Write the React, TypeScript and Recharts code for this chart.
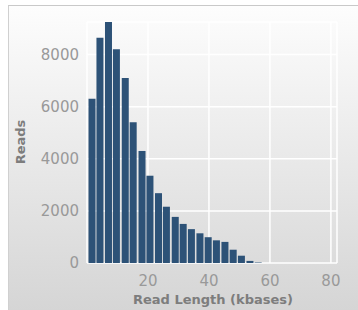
import { BarChart, Bar, XAxis, YAxis, CartesianGrid } from 'recharts';

// bin centres (kbases) and read counts
const binCenters = [1.8, 4.4, 7.2, 9.8, 12.7, 15.3, 18.2, 20.8, 23.6, 26.2, 29.1, 31.7, 34.4, 37.2, 39.9, 42.6, 45.4, 48.1, 50.8, 53.6, 56.3];
const readCounts = [6300, 8650, 9250, 8200, 7100, 5400, 4300, 3350, 2680, 2160, 1770, 1500, 1300, 1140, 990, 870, 810, 510, 280, 80, 20];
const xTicks = [20, 40, 60, 80];
const yTicks = [0, 2000, 4000, 6000, 8000];

const data = binCenters.map((kb, i) => ({ kb, reads: readCounts[i] }));

const tickStyle = { fill: '#999999', fontSize: 15, fontFamily: 'DejaVu Sans, Verdana, sans-serif' };
const titleStyle = { fill: '#7d7d7d', fontSize: 13, fontWeight: 700, fontFamily: 'DejaVu Sans, Verdana, sans-serif' };

export default function App() {
  return (
    <div style={{ position: 'absolute', left: 0, top: 0, width: 358, height: 310, background: '#ffffff', overflow: 'hidden' }}>
      {/* panel background with gradient */}
      <div
        style={{
          position: 'absolute',
          left: 8,
          top: 5,
          width: 360,
          height: 320,
          borderTop: '1.5px solid #c9c9c9',
          borderLeft: '1.5px solid #d0d0d0',
          background: 'linear-gradient(#fdfdfd, #d3d3d3)',
        }}
      />
      <div style={{ position: 'absolute', left: 0, top: 0 }}>
        <BarChart width={358} height={310} data={data} margin={{ top: 22, right: 21, bottom: 0, left: 0 }}>
          <CartesianGrid stroke="#ffffff" strokeWidth={1.5} />
          <XAxis
            dataKey="kb"
            type="number"
            domain={[0, 82]}
            ticks={xTicks}
            axisLine={false}
            tickLine={false}
            tickMargin={6}
            height={47}
            tick={tickStyle}
            label={{
              content: () => (
                <text x={213} y={304} textAnchor="middle" style={titleStyle}>
                  Read Length (kbases)
                </text>
              ),
            }}
          />
          <YAxis
            type="number"
            domain={[0, 9230]}
            ticks={yTicks}
            axisLine={false}
            tickLine={false}
            width={87}
            tick={tickStyle}
            label={{
              content: () => (
                <text x={25} y={142} transform="rotate(-90 25 142)" textAnchor="middle" style={titleStyle}>
                  Reads
                </text>
              ),
            }}
          />
          <Bar dataKey="reads" fill="#2d5277" barSize={7} isAnimationActive={false} />
        </BarChart>
      </div>
    </div>
  );
}
